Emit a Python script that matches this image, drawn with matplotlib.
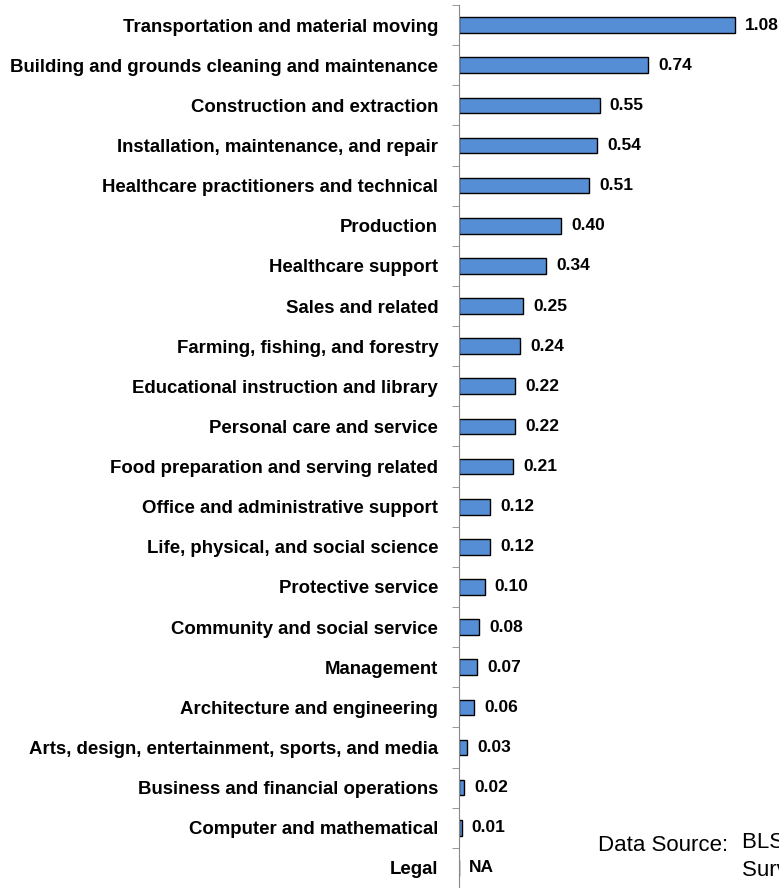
import matplotlib.pyplot as plt
import numpy as np

plt.rcParams['font.family'] = ['Liberation Sans', 'DejaVu Sans']

categories = ["Transportation and material moving",
              "Building and grounds cleaning and maintenance",
              "Construction and extraction",
              "Installation, maintenance, and repair",
              "Healthcare practitioners and technical",
              "Production",
              "Healthcare support",
              "Sales and related",
              "Farming, fishing, and forestry",
              "Educational instruction and library",
              "Personal care and service",
              "Food preparation and serving related",
              "Office and administrative support",
              "Life, physical, and social science",
              "Protective service",
              "Community and social service",
              "Management",
              "Architecture and engineering",
              "Arts, design, entertainment, sports, and media",
              "Business and financial operations",
              "Computer and mathematical",
              "Legal"]
values = [1.08, 0.74, 0.55, 0.54, 0.51, 0.40, 0.34, 0.25, 0.24, 0.22, 0.22,
          0.21, 0.12, 0.12, 0.10, 0.08, 0.07, 0.06, 0.03, 0.02, 0.01, np.nan]

fig = plt.figure(figsize=(7.79, 8.88), dpi=100)
ax = fig.add_axes([459/779, 0, 320/779, 1 - 5/888])

y = np.arange(len(categories))
vals = np.nan_to_num(np.array(values, dtype=float))
ax.barh(y, vals, height=0.39, color='#558ED5', edgecolor='black', linewidth=1)

for yi, v in zip(y, values):
    if np.isnan(v):
        ax.text(0.04, yi, "NA", va='center', ha='left', fontsize=12.5, fontweight='bold')
    else:
        ax.text(v + 0.04, yi, f"{v:.2f}", va='center', ha='left', fontsize=12.5, fontweight='bold')

ax.set_xlim(0, 320/255.6)
ax.set_ylim((888 - 25) / 40.24, -0.5)
ax.set_yticks(y)
ax.set_yticklabels(categories, fontsize=13.4, fontweight='bold')
ax.tick_params(axis='y', which='major', length=0, pad=15)
ax.set_yticks(np.arange(-0.5, len(categories), 1), minor=True)
ax.tick_params(axis='y', which='minor', length=5, color='#888888', direction='out')
ax.set_xticks([])
for s in ['top', 'right', 'bottom']:
    ax.spines[s].set_visible(False)
ax.spines['left'].set_color('#888888')

fig.text(598/779, 1 - 851/888, "Data Source:", fontsize=16, va='baseline', ha='left')
fig.text(742/779, 1 - 832/888, "BLS Census of Fatal\nSurvey of Occupational\nin industry",
         fontsize=16, va='top', ha='left', linespacing=1.45)

fig.savefig("out.png", dpi=100)
